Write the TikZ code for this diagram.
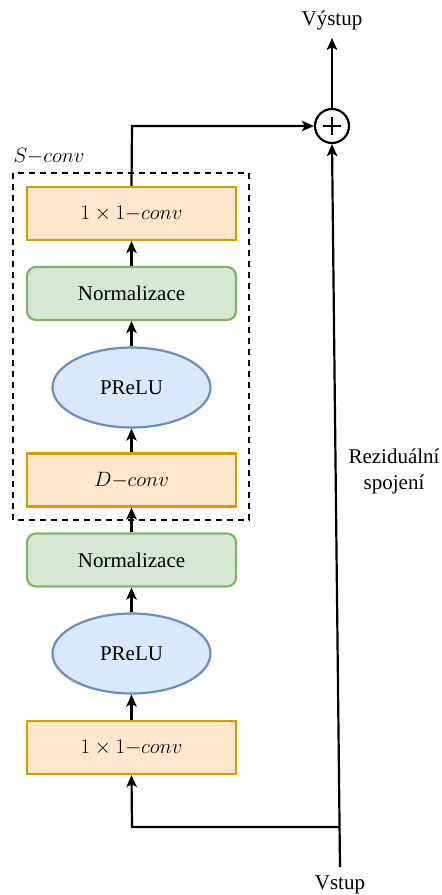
\documentclass[tikz,border=0pt]{standalone}
\usepackage{fontspec}
\setmainfont{Liberation Serif}
\usetikzlibrary{arrows.meta,shapes.geometric}
\definecolor{orfill}{HTML}{FFE6CC}
\definecolor{ordraw}{HTML}{D79B00}
\definecolor{grfill}{HTML}{D5E8D4}
\definecolor{grdraw}{HTML}{82B366}
\definecolor{blfill}{HTML}{DAE8FC}
\definecolor{bldraw}{HTML}{6C8EBF}
\tikzset{
  lbl/.style={font=\fontsize{21}{26}\selectfont},
  convbox/.style={lbl, rectangle, draw=ordraw, fill=orfill, line width=2.2pt, minimum width=209pt, minimum height=53pt, inner sep=0pt},
  normbox/.style={lbl, rectangle, rounded corners=9pt, draw=grdraw, fill=grfill, line width=2.2pt, minimum width=209pt, minimum height=53pt, inner sep=0pt},
  actnode/.style={lbl, ellipse, draw=bldraw, fill=blfill, line width=2.2pt, minimum width=158pt, minimum height=80pt, inner sep=0pt},
  conn/.style={line width=2.2pt, -{Stealth[length=12pt,width=10.5pt,inset=3pt]}},
}
\begin{document}
\begin{tikzpicture}[x=1pt,y=-1pt]
\useasboundingbox (0,0) rectangle (442,895);
% dashed S-conv frame
\draw[line width=2.2pt, dash pattern=on 6pt off 5pt] (13,173) rectangle (249,520);
\node[lbl, anchor=west] (slabel) at (10,156) {$S{-}conv$};
% blocks
\node[convbox] (c1) at (131.5,747.5) {$1\times 1{-}conv$};
\node[actnode] (p1) at (131.5,653.5) {PReLU};
\node[normbox] (n1) at (131.5,560) {Normalizace};
\node[convbox] (dc) at (131.5,480) {$D{-}conv$};
\node[actnode] (p2) at (131.5,387.5) {PReLU};
\node[normbox] (n2) at (131.5,293.5) {Normalizace};
\node[convbox] (c2) at (131.5,213.5) {$1\times 1{-}conv$};
% sum
\node[circle, draw, line width=2.2pt, minimum size=34pt, inner sep=0pt, fill=white] (sum) at (332,126) {};
\draw[line width=1.6pt] ([xshift=-9pt]sum.center) -- ([xshift=9pt]sum.center);
\draw[line width=1.6pt] ([yshift=-9pt]sum.center) -- ([yshift=9pt]sum.center);
% texts
\node[lbl] (out) at (332,20) {Výstup};
\node[lbl] (in) at (340,885) {Vstup};
\node[lbl, align=center] (res) at (394,471) {Reziduální\\spojení};
% coordinates
\coordinate (inpt) at (340,867);
\coordinate (junc) at (340,827);
\coordinate (jl) at (132,827);
\coordinate (tc) at (132,126);
\coordinate (outend) at (332,38);
% connectors
\draw[conn] (inpt) -- (sum.south);
\draw[conn] (junc) -- (jl) -- (c1.south);
\draw[conn] (c1.north) -- (p1.south);
\draw[conn] (p1.north) -- (n1.south);
\draw[conn] (n1.north) -- (dc.south);
\draw[conn] (dc.north) -- (p2.south);
\draw[conn] (p2.north) -- (n2.south);
\draw[conn] (n2.north) -- (c2.south);
\draw[conn] (c2.north) -- (tc) -- (sum.west);
\draw[conn] (sum.north) -- (outend);
\end{tikzpicture}
\end{document}
